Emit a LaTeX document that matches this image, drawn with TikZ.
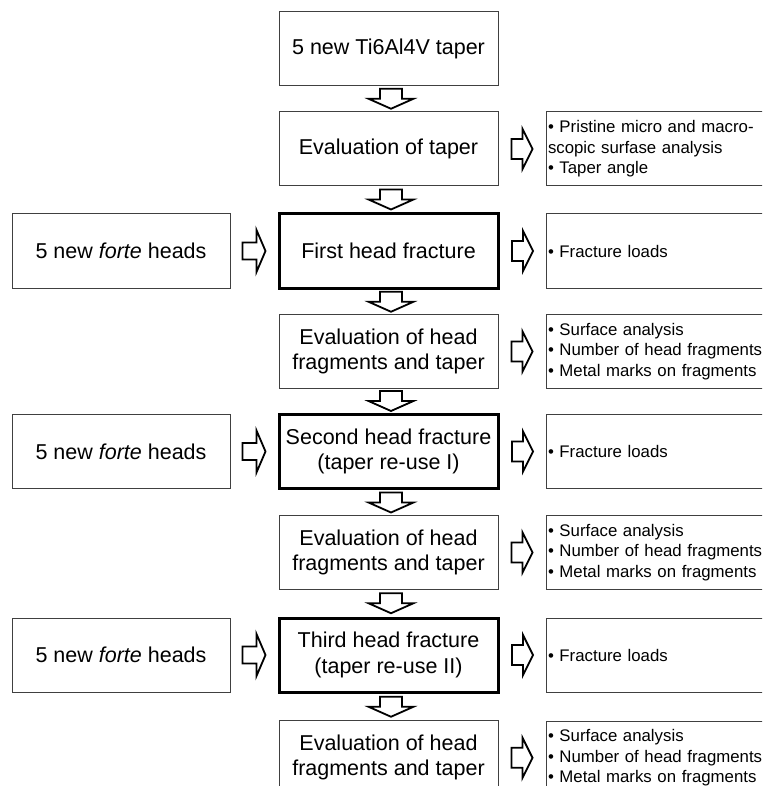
\documentclass[tikz,border=0pt]{standalone}
\usepackage{fontspec}
\setmainfont{Liberation Sans}
\usetikzlibrary{calc}
\tikzset{
  box/.style={draw=black!75, line width=1pt, rectangle, inner sep=0pt, minimum width=219pt, minimum height=74pt, align=center, font=\fontsize{21.5}{25.8}\selectfont},
  thickbox/.style={box, draw=black, line width=3pt},
  sidebox/.style={box, minimum width=218pt},
  notebox/.style={draw=black!75, line width=1pt, rectangle, inner xsep=2pt, inner ysep=0pt, text width=240pt, minimum height=74pt, align=left, font=\fontsize{16.8}{20.4}\selectfont},
  arrline/.style={draw=black, line width=1.8pt, line join=miter, fill=white},
  darr/.pic={\path[arrline] (-11,-10) -- (11,-10) -- (11,0) -- (22.5,0) -- (0,10) -- (-22.5,0) -- (-11,0) -- cycle;},
  rarr/.pic={\path[arrline] (-10.5,-10) -- (0.5,-10) -- (0.5,-20) -- (10.5,0) -- (0.5,20) -- (0.5,10) -- (-10.5,10) -- cycle;},
  larr/.pic={\path[arrline] (-11.5,-8.5) -- (2.5,-8.5) -- (2.5,-21) -- (11.5,0) -- (2.5,21) -- (2.5,8.5) -- (-11.5,8.5) -- cycle;}
}
\begin{document}
\begin{tikzpicture}[x=1pt,y=-1pt]
\useasboundingbox (0,0) rectangle (762,786);
\fill[white] (0,0) rectangle (762,786);
\clip (0,0) rectangle (762,786);
% centre column
\node[box] (c1) at (388.5,48.5) {5 new Ti6Al4V taper};
\node[box] (c2) at (388.5,149) {Evaluation of taper};
\node[thickbox] (c3) at (388.5,251) {First head fracture};
\node[box] (c4) at (388.5,351.5) {Evaluation of head\\fragments and taper};
\node[thickbox] (c5) at (388.5,451.5) {Second head fracture\\(taper re-use I)};
\node[box] (c6) at (388.5,552.5) {Evaluation of head\\fragments and taper};
\node[thickbox] (c7) at (388.5,655) {Third head fracture\\(taper re-use II)};
\node[box] (c8) at (388.5,757.5) {Evaluation of head\\fragments and taper};
% left column
\node[sidebox] (l3) at (121,251) {5 new \textit{forte} heads};
\node[sidebox] (l5) at (121,451.5) {5 new \textit{forte} heads};
\node[sidebox] (l7) at (121,655) {5 new \textit{forte} heads};
% right column
\node[notebox] (r2) at (668,149) {\textbullet{} Pristine micro and macro-\\scopic surfase analysis\\\textbullet{} Taper angle};
\node[notebox] (r3) at (668,251) {\textbullet{} Fracture loads};
\node[notebox] (r4) at (668,351.5) {\textbullet{} Surface analysis\\\textbullet{} Number of head fragments\\\textbullet{} Metal marks on fragments};
\node[notebox] (r5) at (668,451.5) {\textbullet{} Fracture loads};
\node[notebox] (r6) at (668,552.5) {\textbullet{} Surface analysis\\\textbullet{} Number of head fragments\\\textbullet{} Metal marks on fragments};
\node[notebox] (r7) at (668,655) {\textbullet{} Fracture loads};
\node[notebox] (r8) at (668,758) {\textbullet{} Surface analysis\\\textbullet{} Number of head fragments\\\textbullet{} Metal marks on fragments};
% down arrows
\foreach \a/\b in {c1/c2,c2/c3,c3/c4,c4/c5,c5/c6,c6/c7,c7/c8}
  \path ($(\a.south)!0.5!(\b.north)+(2.5,0)$) pic {darr};
% right arrows
\foreach \a/\b in {c2/r2,c3/r3,c4/r4,c5/r5,c6/r6,c7/r7,c8/r8}
  \path ($(\a.east)!0.5!(\b.west)$) pic {rarr};
% left arrows
\foreach \a/\b in {l3/c3,l5/c5,l7/c7}
  \path ($(\a.east)!0.5!(\b.west)$) pic {larr};
\end{tikzpicture}
\end{document}
